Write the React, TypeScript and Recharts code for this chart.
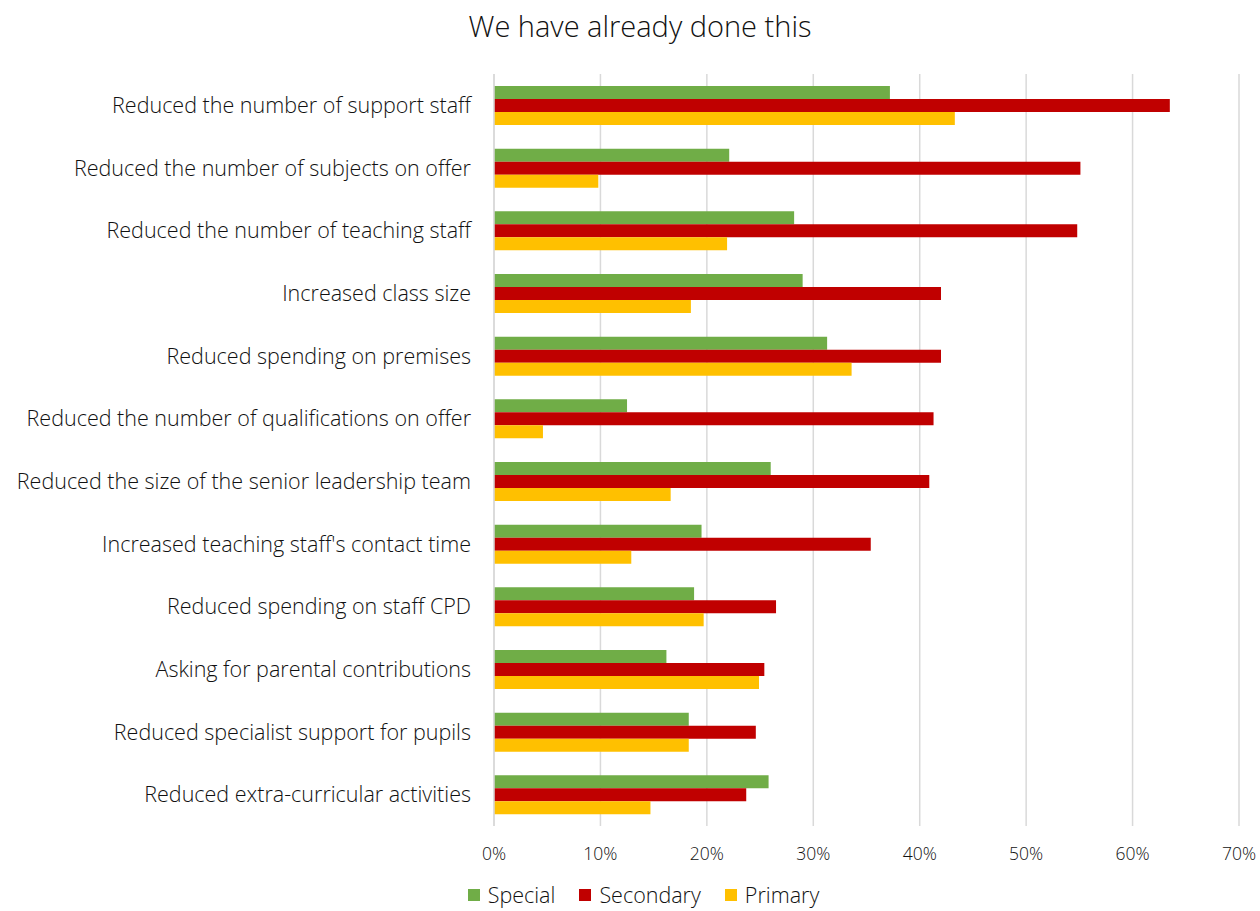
import { BarChart, Bar, XAxis, YAxis, CartesianGrid, Legend } from 'recharts'

const CATEGORIES = [
	'Reduced the number of support staff',
	'Reduced the number of subjects on offer',
	'Reduced the number of teaching staff',
	'Increased class size',
	'Reduced spending on premises',
	'Reduced the number of qualifications on offer',
	'Reduced the size of the senior leadership team',
	"Increased teaching staff's contact time",
	'Reduced spending on staff CPD',
	'Asking for parental contributions',
	'Reduced specialist support for pupils',
	'Reduced extra-curricular activities',
]

const SPECIAL = [37.2, 22.1, 28.2, 29.0, 31.3, 12.5, 26.0, 19.5, 18.8, 16.2, 18.3, 25.8]
const SECONDARY = [63.5, 55.1, 54.8, 42.0, 42.0, 41.3, 40.9, 35.4, 26.5, 25.4, 24.6, 23.7]
const PRIMARY = [43.3, 9.8, 21.9, 18.5, 33.6, 4.6, 16.6, 12.9, 19.7, 24.9, 18.3, 14.7]

const X_TICKS = [0, 10, 20, 30, 40, 50, 60, 70]

const SERIES = ['Special', 'Secondary', 'Primary']

const COLORS = {
	SPECIAL: '#70ad47',
	SECONDARY: '#c00000',
	PRIMARY: '#ffc000',
	GRID: '#d9d9d9',
	TEXT: '#111111',
}

const FONT = '"Open Sans", "Segoe UI", sans-serif'

const data = CATEGORIES.map((name, i) => ({
	name,
	special: SPECIAL[i],
	secondary: SECONDARY[i],
	primary: PRIMARY[i],
}))

// легенда снизу по центру, порядок серий как в исходнике
const renderLegend = ({ payload }: any) => {
	const items = [...(payload || [])].sort((a: any, b: any) => SERIES.indexOf(a.value) - SERIES.indexOf(b.value))
	return (
		<div
			style={{
				display: 'flex',
				justifyContent: 'center',
				gap: 24,
				paddingTop: 5,
				paddingLeft: 48,
				fontFamily: FONT,
				fontWeight: 300,
				fontSize: 21.5,
				lineHeight: '28px',
				color: COLORS.TEXT,
			}}
		>
			{items.map((item: any) => (
				<div key={item.value} style={{ display: 'flex', alignItems: 'center', gap: 8 }}>
					<span style={{ width: 12, height: 12, background: item.color, display: 'inline-block' }} />
					<span>{item.value}</span>
				</div>
			))}
		</div>
	)
}

export default function App() {
	return (
		<div style={{ position: 'absolute', left: 0, top: 0, width: 1260, height: 911, background: '#fff', overflow: 'hidden' }}>
			<div
				style={{
					position: 'absolute',
					top: 6,
					left: 0,
					width: 1280,
					textAlign: 'center',
					fontFamily: FONT,
					fontWeight: 300,
					fontSize: 29,
					color: COLORS.TEXT,
				}}
			>
				We have already done this
			</div>
			<BarChart
				width={1260}
				height={911}
				data={data}
				layout="vertical"
				margin={{ top: 74, right: 21, bottom: 0, left: 0 }}
				barGap={0}
			>
				<CartesianGrid horizontal={false} stroke={COLORS.GRID} strokeWidth={1.5} />
				<XAxis
					type="number"
					domain={[0, 70]}
					ticks={X_TICKS}
					tickFormatter={(v) => `${v}%`}
					axisLine={false}
					tickLine={false}
					tickSize={0}
					tickMargin={22}
					height={50}
					tick={{ fill: COLORS.TEXT, fontSize: 17.5, fontFamily: FONT, fontWeight: 300 }}
				/>
				<YAxis
					type="category"
					dataKey="name"
					width={494}
					axisLine={{ stroke: COLORS.GRID, strokeWidth: 1.5 }}
					tickLine={false}
					tickSize={0}
					tickMargin={23}
					interval={0}
					tick={{ fill: COLORS.TEXT, fontSize: 21.5, fontFamily: FONT, fontWeight: 300 }}
				/>
				<Legend verticalAlign="bottom" height={35} content={renderLegend} />
				<Bar dataKey="special" name="Special" fill={COLORS.SPECIAL} barSize={13} isAnimationActive={false} />
				<Bar dataKey="secondary" name="Secondary" fill={COLORS.SECONDARY} barSize={13} isAnimationActive={false} />
				<Bar dataKey="primary" name="Primary" fill={COLORS.PRIMARY} barSize={13} isAnimationActive={false} />
			</BarChart>
		</div>
	)
}
